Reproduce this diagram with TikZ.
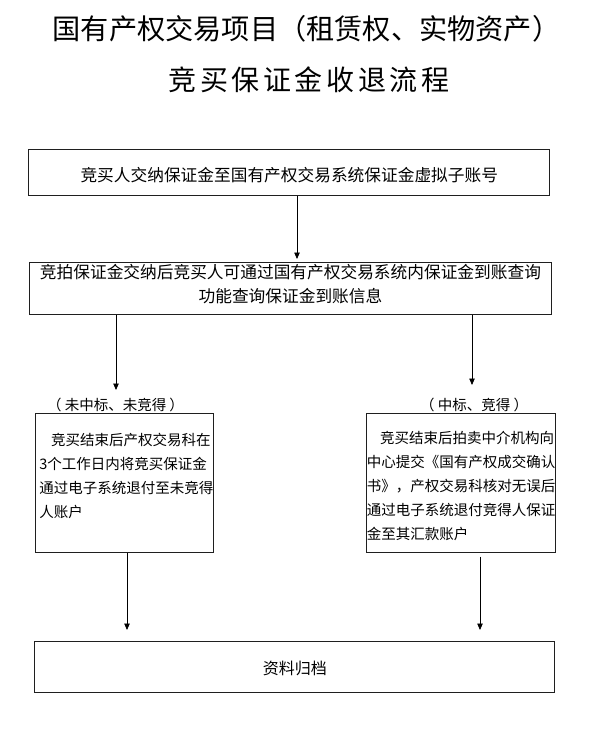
\documentclass[tikz,border=0pt]{standalone}
\usepackage{fontspec}
\setmainfont{Noto Sans CJK SC}
\usetikzlibrary{arrows.meta}
\tikzset{
	box/.style={draw=black!88, line width=0.9pt, inner sep=0pt, anchor=north west},
	flow/.style={draw=black, line width=0.8pt, -{Triangle[width=5.5pt,length=6.5pt]}},
	tag/.style={inner sep=0pt, font=\fontsize{14.5}{17}\selectfont},
}

\begin{document}
\begin{tikzpicture}[x=1pt, y=-1pt]
		%%%%% START %%%%%
		\useasboundingbox (0, 0) rectangle (595, 733);
		
		\node[inner sep=0pt, font=\fontsize{28.2}{34}\selectfont] (title) at (306.5, 28.5) {国有产权交易项目（租赁权、实物资产）};
		\node[inner sep=0pt, font=\fontsize{28}{34}\selectfont\addfontfeature{LetterSpace=13}] (subtitle) at (309, 80) {竞买保证金收退流程};
		
		\node[box] (pay) at (28.3, 149.3) {\fontsize{16.7}{24}\selectfont\parbox[c][45.7pt][t]{521pt}{\centering\rule{0pt}{32pt}竞买人交纳保证金至国有产权交易系统保证金虚拟子账号}};
		\node[box] (query) at (29.3, 262) {\fontsize{16.7}{24}\selectfont\parbox[c][52pt][t]{521.4pt}{\centering\rule{0pt}{16pt}竞拍保证金交纳后竞买人可通过国有产权交易系统内保证金到账查询\\功能查询保证金到账信息}};
		
		\node[tag] (lostlabel) at (115.5, 405) {（ 未中标、未竞得 ）};
		\node[tag] (wonlabel) at (474, 405) {（ 中标、竞得 ）};
		
		\node[box] (lost) at (35, 413.3) {\fontsize{14.5}{24}\selectfont\parbox[c][138.4pt][t]{178.3pt}{\raggedright\leftskip=4pt\rule{0pt}{32.2pt}\hspace*{0.8em}竞买结束后产权交易科在\\3个工作日内将竞买保证金\\通过电子系统退付至未竞得\\人账户}};
		\node[box] (won) at (366, 413.3) {\fontsize{14.5}{24}\selectfont\parbox[c][138.4pt][t]{189pt}{\raggedright\leftskip=0.5pt\rule{0pt}{30.2pt}\hspace*{0.9em}竞买结束后拍卖中介机构向\\中心提交《国有产权成交确认\\书》，产权交易科核对无误后\\通过电子系统退付竞得人保证\\金至其汇款账户}};
		
		\node[box] (archive) at (34.3, 641) {\fontsize{16}{24}\selectfont\parbox[c][51.3pt][t]{520pt}{\centering\rule{0pt}{33pt}资料归档}};
		
		% arrow tips
		\coordinate (tippay) at (297, 259);
		\coordinate (tiplost) at (116, 390);
		\coordinate (tipwon) at (472, 385);
		\coordinate (tiplostend) at (127, 630);
		\coordinate (tipwonend) at (480, 630);
		
		\draw[flow] (tippay |- pay.south) -- (tippay);
		\draw[flow] (tiplost |- query.south) -- (tiplost);
		\draw[flow] (tipwon |- query.south) -- (tipwon);
		\draw[flow] (tiplostend |- lost.south) -- (tiplostend);
		\draw[flow, shorten <=4pt] (tipwonend |- won.south) -- (tipwonend);
		
		%%%%% END %%%%%
	\end{tikzpicture}
\end{document}
